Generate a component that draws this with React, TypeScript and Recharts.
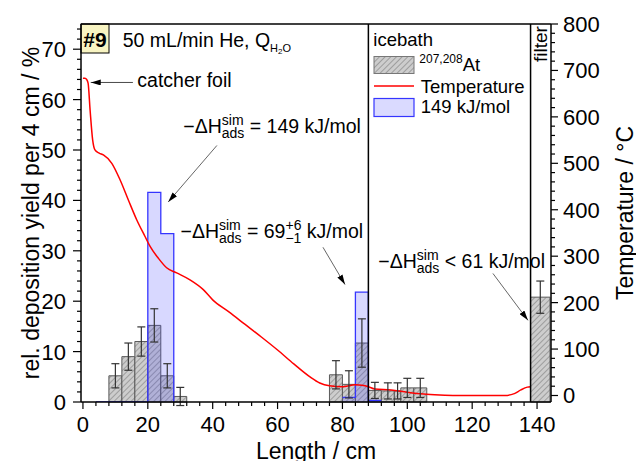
import React from 'react';
import {
  ComposedChart,
  XAxis,
  YAxis,
  Line,
  Area,
  Scatter,
  ErrorBar,
  ReferenceArea,
  ReferenceLine,
  Customized,
} from 'recharts';

const FONT = '"Liberation Sans", Arial, Helvetica, sans-serif';

// 207,208At deposition: bin edges in cm, yield in %, error in %
const atBinStart = [8, 12, 16, 20, 24, 28, 76, 80, 84, 88, 92, 96, 98, 102, 138];
const atBinEnd = [12, 16, 20, 24, 28, 32, 80, 84, 88, 92, 96, 98, 102, 106, 144];
const atYield = [5.2, 9.0, 12.0, 15.2, 5.2, 1.1, 5.4, 3.5, 11.7, 2.3, 2.2, 2.2, 2.8, 2.8, 20.8];
const atError = [2.4, 2.7, 2.9, 3.3, 2.4, 1.8, 2.8, 2.7, 4.8, 1.6, 1.6, 1.6, 1.9, 1.9, 3.2];

// simulated deposition for -dH = 149 kJ/mol (step histogram)
const simFirstX = [4, 20, 24, 28];
const simFirstYield = [0, 41.6, 33.4, 0];
const simSecondX = [80, 84, 88, 92];
const simSecondYield = [0.9, 21.8, 0.3, 0.3];

// temperature profile along the column
const tempLength = [
  0, 0.6, 1.2, 1.6, 2.2, 3.0, 3.7, 5, 6.3, 8.9, 11.4, 14.0, 16.6, 19.1, 20.7, 23.2, 25.8,
  28.9, 33.0, 37.1, 40, 45, 50, 55, 60, 65, 70, 73, 76, 80, 84, 86, 88, 90, 95, 100, 105,
  110, 115, 120, 125, 130, 133, 135, 137, 138,
];
const tempCelsius = [
  683, 683, 680, 672, 615, 550, 529, 522, 518, 500, 465, 421, 378, 343, 321, 296, 275,
  264, 249, 228, 206, 180, 153, 126, 98, 68, 40, 27, 21, 19, 23, 22, 19, 14, 12, 7, 3,
  1, 0, 0, 0, 0, 4, 12, 18, 19,
];

const xMajorTicks = [0, 20, 40, 60, 80, 100, 120, 140];
const leftMajorTicks = [0, 10, 20, 30, 40, 50, 60, 70];
const rightMajorTicks = [0, 100, 200, 300, 400, 500, 600, 700, 800];

const xTicks = Array.from({ length: 36 }, (_, i) => i * 4);
const leftTicks = Array.from({ length: 38 }, (_, i) => i * 2);
const rightTicks = Array.from({ length: 41 }, (_, i) => i * 20);

const atBars = atBinStart.map((s, i) => ({ x1: s, x2: atBinEnd[i], y: atYield[i] }));
const atErrors = atBinStart.map((s, i) => ({ x: (s + atBinEnd[i]) / 2, y: atYield[i], err: atError[i] }));
const simFirst = simFirstX.map((x, i) => ({ x, v: simFirstYield[i] }));
const simSecond = simSecondX.map((x, i) => ({ x, v: simSecondYield[i] }));
const tempData = tempLength.map((x, i) => ({ x, t: tempCelsius[i] }));

const BottomTick = ({ x, y, payload }: any) => {
  const major = xMajorTicks.includes(payload.value);
  return (
    <g>
      <line x1={x} x2={x} y1={y} y2={y + (major ? 7 : 4)} stroke="#000" strokeWidth={1.2} />
      {major && (
        <text x={x} y={y + 30} textAnchor="middle" fontSize={22} fontFamily={FONT} fill="#000">
          {payload.value}
        </text>
      )}
    </g>
  );
};

const LeftTick = ({ x, y, payload }: any) => {
  const major = leftMajorTicks.includes(payload.value);
  return (
    <g>
      <line x1={x} x2={x - (major ? 8 : 4)} y1={y} y2={y} stroke="#000" strokeWidth={1.2} />
      {major && (
        <text x={x - 15} y={y} dy="0.36em" textAnchor="end" fontSize={22} fontFamily={FONT} fill="#000">
          {payload.value}
        </text>
      )}
    </g>
  );
};

const RightTick = ({ x, y, payload }: any) => {
  const major = rightMajorTicks.includes(payload.value);
  return (
    <g>
      <line x1={x} x2={x + (major ? 7 : 4)} y1={y} y2={y} stroke="#000" strokeWidth={1.2} />
      {major && (
        <text x={x + 12} y={y} dy="0.36em" textAnchor="start" fontSize={22} fontFamily={FONT} fill="#000">
          {payload.value}
        </text>
      )}
    </g>
  );
};

const dH = (key: string) => [
  <tspan key={key + 'a'}>−ΔH</tspan>,
  <tspan key={key + 'b'} fontSize={14} dy={-8}>sim</tspan>,
  <tspan key={key + 'c'} fontSize={14} dx={-21.8} dy={13}>ads</tspan>,
];

const Annotations = () => (
  <g fontFamily={FONT} fill="#000" style={{ whiteSpace: 'pre' }}>
    <rect x={81} y={24} width={28} height={29} fill="#f8f4c2" stroke="#000" strokeWidth={1} />
    <text x={95} y={47} fontSize={21} fontWeight="bold" textAnchor="middle">#9</text>
    <text x={122.7} y={46.7} fontSize={19.5}>
      <tspan>50 mL/min He, Q</tspan>
      <tspan fontSize={11} dy={5}>H</tspan>
      <tspan fontSize={8} dy={2}>2</tspan>
      <tspan fontSize={11} dy={-2}>O</tspan>
    </text>
    <text x={137.3} y={86.7} fontSize={19.5}>catcher foil</text>

    <text x={183.3} y={133.3} fontSize={19.5}>
      {dH('one')}
      <tspan dy={-5}> = 149 kJ/mol</tspan>
    </text>
    <text x={180.5} y={238.3} fontSize={19.5}>
      {dH('two')}
      <tspan dy={-5}> = 69</tspan>
      <tspan fontSize={14} dy={-8}>+6</tspan>
      <tspan fontSize={14} dx={-16} dy={13}>−1</tspan>
      <tspan dy={-5}> kJ/mol</tspan>
    </text>
    <text x={378.3} y={268.3} fontSize={19.5}>
      {dH('three')}
      <tspan dy={-5}> &lt; 61 kJ/mol</tspan>
    </text>

    <text x={540} y={44} fontSize={19} textAnchor="middle" transform="rotate(-90, 540, 44)" dy="0.35em">filter</text>

    {/* legend */}
    <text x={373.3} y={46} fontSize={18.5}>icebath</text>
    <rect x={374} y={56.5} width={40} height={17} fill="url(#hatch)" stroke="#777" strokeWidth={1} />
    <text x={419.3} y={70.7} fontSize={18.5}>
      <tspan fontSize={12} dy={-7.4}>207,208</tspan>
      <tspan dy={7.4}>At</tspan>
    </text>
    <line x1={374} x2={414} y1={86} y2={86} stroke="#ff0000" strokeWidth={1.5} />
    <text x={420.7} y={92.7} fontSize={18.5}>Temperature</text>
    <rect x={374} y={98.5} width={40} height={18} fill="#dadaff" stroke="#3535ff" strokeWidth={1.2} />
    <text x={420.7} y={113.3} fontSize={18.5}>149 kJ/mol</text>

    {/* axis titles */}
    <text x={39} y={213} fontSize={23} textAnchor="middle" transform="rotate(-90, 39, 213)">
      rel. deposition yield per 4 cm / %
    </text>
    <text x={633} y={213} fontSize={23} textAnchor="middle" transform="rotate(-90, 633, 213)">
      Temperature / °C
    </text>
    <text x={316} y={459} fontSize={23} textAnchor="middle">Length / cm</text>
  </g>
);

export default function App() {
  return (
    <div style={{ position: 'absolute', left: 0, top: 0, background: '#fff' }}>
      <ComposedChart width={636} height={461} margin={{ top: 24, right: 25, bottom: 19, left: 21 }}>
        <defs>
          <pattern id="hatch" patternUnits="userSpaceOnUse" width={4} height={4} patternTransform="rotate(45)">
            <rect width={4} height={4} fill="#cdcdcd" />
            <line x1={0} y1={0} x2={0} y2={4} stroke="#7d7d7d" strokeWidth={1.2} />
          </pattern>
          <marker id="arrowHead" markerWidth={10} markerHeight={6} refX={10} refY={3} orient="auto" markerUnits="userSpaceOnUse">
            <path d="M0,0 L10,3 L0,6 z" fill="#000" />
          </marker>
        </defs>

        <XAxis
          type="number"
          dataKey="x"
          domain={[-0.6, 144.3]}
          allowDataOverflow
          ticks={xTicks}
          interval={0}
          tick={<BottomTick />}
          tickSize={0}
          tickMargin={0}
          tickLine={false}
          axisLine={{ stroke: '#000', strokeWidth: 1.5 }}
          height={40}
        />
        <YAxis
          yAxisId="left"
          type="number"
          domain={[0, 75]}
          allowDataOverflow
          ticks={leftTicks}
          interval={0}
          tick={<LeftTick />}
          tickSize={0}
          tickMargin={0}
          tickLine={false}
          axisLine={{ stroke: '#000', strokeWidth: 1.5 }}
          width={60}
        />
        <YAxis
          yAxisId="right"
          orientation="right"
          type="number"
          domain={[-14, 800]}
          allowDataOverflow
          ticks={rightTicks}
          interval={0}
          tick={<RightTick />}
          tickSize={0}
          tickMargin={0}
          tickLine={false}
          axisLine={{ stroke: '#000', strokeWidth: 1.5 }}
          width={60}
        />

        {atBars.map((b, i) => (
          <ReferenceArea
            key={`at-${i}`}
            yAxisId="left"
            x1={b.x1}
            x2={b.x2}
            y1={0}
            y2={b.y}
            fill="url(#hatch)"
            fillOpacity={1}
            stroke="#5a5a5a"
            strokeWidth={1}
          />
        ))}

        <Area
          yAxisId="left"
          data={simFirst}
          dataKey="v"
          type="stepAfter"
          stroke="#3535ff"
          strokeWidth={1.3}
          fill="#3a3aff"
          fillOpacity={0.2}
          isAnimationActive={false}
        />
        <Area
          yAxisId="left"
          data={simSecond}
          dataKey="v"
          type="stepAfter"
          stroke="#3535ff"
          strokeWidth={1.3}
          fill="#3a3aff"
          fillOpacity={0.2}
          isAnimationActive={false}
        />

        <Line
          yAxisId="right"
          data={tempData}
          dataKey="t"
          type="monotone"
          stroke="#ff0000"
          strokeWidth={1.5}
          dot={false}
          isAnimationActive={false}
        />

        <Scatter yAxisId="left" data={atErrors} dataKey="y" shape={() => <g />} isAnimationActive={false}>
          <ErrorBar dataKey="err" direction="y" width={4} stroke="#333" strokeWidth={1.2} />
        </Scatter>

        <ReferenceLine yAxisId="left" x={88} stroke="#000" strokeWidth={1.5} />
        <ReferenceLine yAxisId="left" x={138} stroke="#000" strokeWidth={1.5} />
        <ReferenceLine yAxisId="left" y={75} stroke="#000" strokeWidth={1.5} />

        <ReferenceLine yAxisId="left" segment={[{ x: 15.4, y: 63.4 }, { x: 2.4, y: 63.4 }]} stroke="#333" strokeWidth={0.9} markerEnd="url(#arrowHead)" />
        <ReferenceLine yAxisId="left" segment={[{ x: 41.3, y: 50.9 }, { x: 26.3, y: 39.7 }]} stroke="#555" strokeWidth={0.9} markerEnd="url(#arrowHead)" />
        <ReferenceLine yAxisId="left" segment={[{ x: 74.0, y: 30.7 }, { x: 80.8, y: 23.3 }]} stroke="#555" strokeWidth={0.9} markerEnd="url(#arrowHead)" />
        <ReferenceLine yAxisId="left" segment={[{ x: 126.4, y: 25.5 }, { x: 137.2, y: 16.2 }]} stroke="#555" strokeWidth={0.9} markerEnd="url(#arrowHead)" />

        <Customized component={Annotations} />
      </ComposedChart>
    </div>
  );
}
